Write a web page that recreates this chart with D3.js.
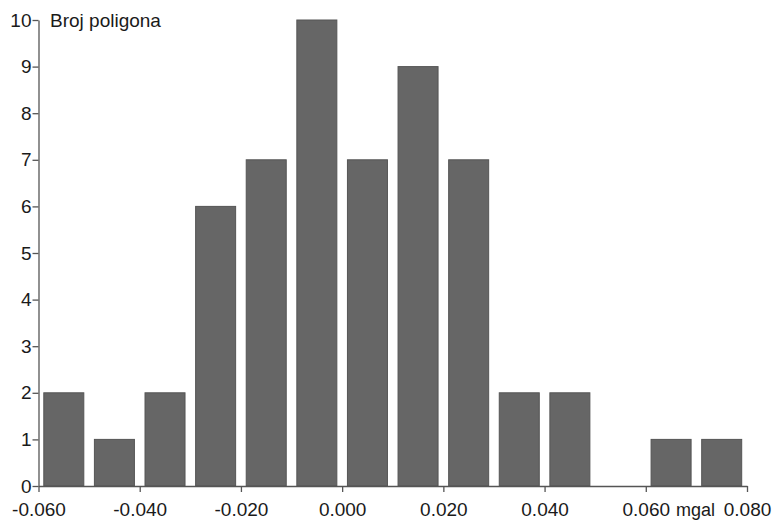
<!DOCTYPE html>
<html><head><meta charset="utf-8">
<script src="https://cdn.jsdelivr.net/npm/d3@7"></script>
<style>body{margin:0;background:#fff;} text{font-family:"Liberation Sans",Arial,sans-serif;}</style>
</head><body>
<svg id="c" width="775" height="521"></svg>
<script>
const binStarts = [-0.06,-0.05,-0.04,-0.03,-0.02,-0.01,0.0,0.01,0.02,0.03,0.04,0.05,0.06,0.07];
const counts = [2,1,2,6,7,10,7,9,7,2,2,0,1,1];
const xTicks = [-0.06,-0.04,-0.02,0.0,0.02,0.04,0.06,0.08];
const yTicks = [0,1,2,3,4,5,6,7,8,9,10];
const binWidth = 0.01;

const svg = d3.select("#c");
const x = d3.scaleLinear().domain([-0.06,0.08]).range([38.5,747]);
const y = d3.scaleLinear().domain([0,10]).range([486,20]);

const pad = 5.3;
svg.append("g").selectAll("rect")
  .data(binStarts.map((b,i)=>({b,c:counts[i]})).filter(d=>d.c>0)).join("rect")
  .attr("x",d=>x(d.b)+pad)
  .attr("width",d=>x(d.b+binWidth)-x(d.b)-2*pad)
  .attr("y",d=>y(d.c))
  .attr("height",d=>y(0)-y(d.c))
  .attr("fill","#666666").attr("stroke","#555555").attr("stroke-width",1);

const fmtX = d=>d3.format(".3f")(d).replace("\u2212","-");
const xa = svg.append("g").attr("transform","translate(0,486)")
  .call(d3.axisBottom(x).tickValues(xTicks).tickFormat(fmtX).tickSize(6).tickSizeOuter(0));
const ya = svg.append("g").attr("transform","translate(38.5,0)")
  .call(d3.axisLeft(y).tickValues(yTicks).tickFormat(d3.format("d")).tickSize(6).tickSizeOuter(0));
[xa,ya].forEach(a=>{
  a.selectAll("path,line").attr("stroke","#555").attr("stroke-width",1.3);
  a.selectAll("text").attr("fill","#1a1a1a").style("font-size","19px");
});
xa.selectAll("text").attr("y",30).attr("dy",0);
ya.selectAll("text").attr("x",-7);

svg.append("text").attr("x",676).attr("y",516).text("mgal")
  .attr("fill","#1a1a1a").style("font-size","18px");
svg.append("text").attr("x",50).attr("y",27).text("Broj poligona")
  .attr("fill","#1a1a1a").style("font-size","19px");
</script>
</body></html>
